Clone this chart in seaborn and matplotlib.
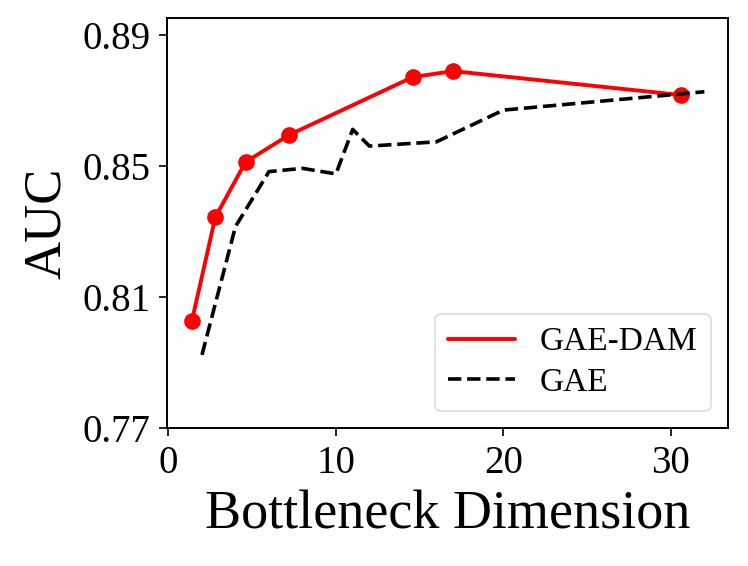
import numpy as np
import pandas as pd
import matplotlib
matplotlib.use('Agg')
import matplotlib.pyplot as plt
from matplotlib.lines import Line2D
import seaborn as sns

# values
dam_dim = [1.4, 2.8, 4.6, 7.2, 14.6, 17.0, 30.6]
dam_auc = [0.8027, 0.8344, 0.8512, 0.8595, 0.8772, 0.8790, 0.8717]

gae_dim = [2, 4, 6, 8, 10, 11, 12, 16, 20, 32]
gae_auc = [0.7923, 0.8315, 0.8483, 0.8493, 0.8476, 0.8612, 0.8561, 0.8574, 0.8671, 0.8727]

y_ticks = [0.77, 0.81, 0.85, 0.89]
x_ticks = [0, 10, 20, 30]

sns.set_theme(style='ticks')
plt.rcParams['font.family'] = ['Liberation Serif', 'DejaVu Serif']
plt.rcParams['text.color'] = 'black'
plt.rcParams['axes.labelcolor'] = 'black'
plt.rcParams['axes.edgecolor'] = 'black'
plt.rcParams['axes.linewidth'] = 1.4
plt.rcParams['xtick.major.width'] = 1.2
plt.rcParams['ytick.major.width'] = 1.2
plt.rcParams['xtick.major.size'] = 6
plt.rcParams['ytick.major.size'] = 6

df_dam = pd.DataFrame({'dim': dam_dim, 'auc': dam_auc})
df_gae = pd.DataFrame({'dim': gae_dim, 'auc': gae_auc})

fig = plt.figure(figsize=(7.48, 5.66), dpi=100)
ax = fig.add_axes([0.223, 0.244, 0.75, 0.724])

sns.lineplot(data=df_dam, x='dim', y='auc', ax=ax, color='red', linewidth=2.8,
             marker='o', markersize=12, markeredgewidth=0)
sns.lineplot(data=df_gae, x='dim', y='auc', ax=ax, color='black', linewidth=2.6,
             linestyle='--')

# legend: plain line for GAE-DAM, dashed for GAE
handles = [Line2D([], [], color='red', linewidth=2.8),
           Line2D([], [], color='black', linewidth=2.6, linestyle='--')]
leg = ax.legend(handles, ['GAE-DAM', 'GAE'], loc='lower right', fontsize=24,
                frameon=True, handlelength=2.0, borderpad=0.4, labelspacing=0.3,
                handletextpad=0.75, borderaxespad=0.5, fancybox=True)
leg.get_frame().set_edgecolor('#d4d4d4')
leg.get_frame().set_linewidth(1.2)

ax.set_xlim(-0.1, 33.4)
ax.set_ylim(0.77, 0.8952)
ax.set_xticks(x_ticks)
ax.set_yticks(y_ticks)
ax.set_yticklabels([f'{v:.2f}' for v in y_ticks])
ax.tick_params(labelsize=28, colors='black', pad=6)
ax.set_xlabel('Bottleneck Dimension', fontsize=39, color='black', labelpad=6)
ax.set_ylabel('AUC', fontsize=38, color='black', labelpad=8)

fig.savefig('out.png', dpi=100)
